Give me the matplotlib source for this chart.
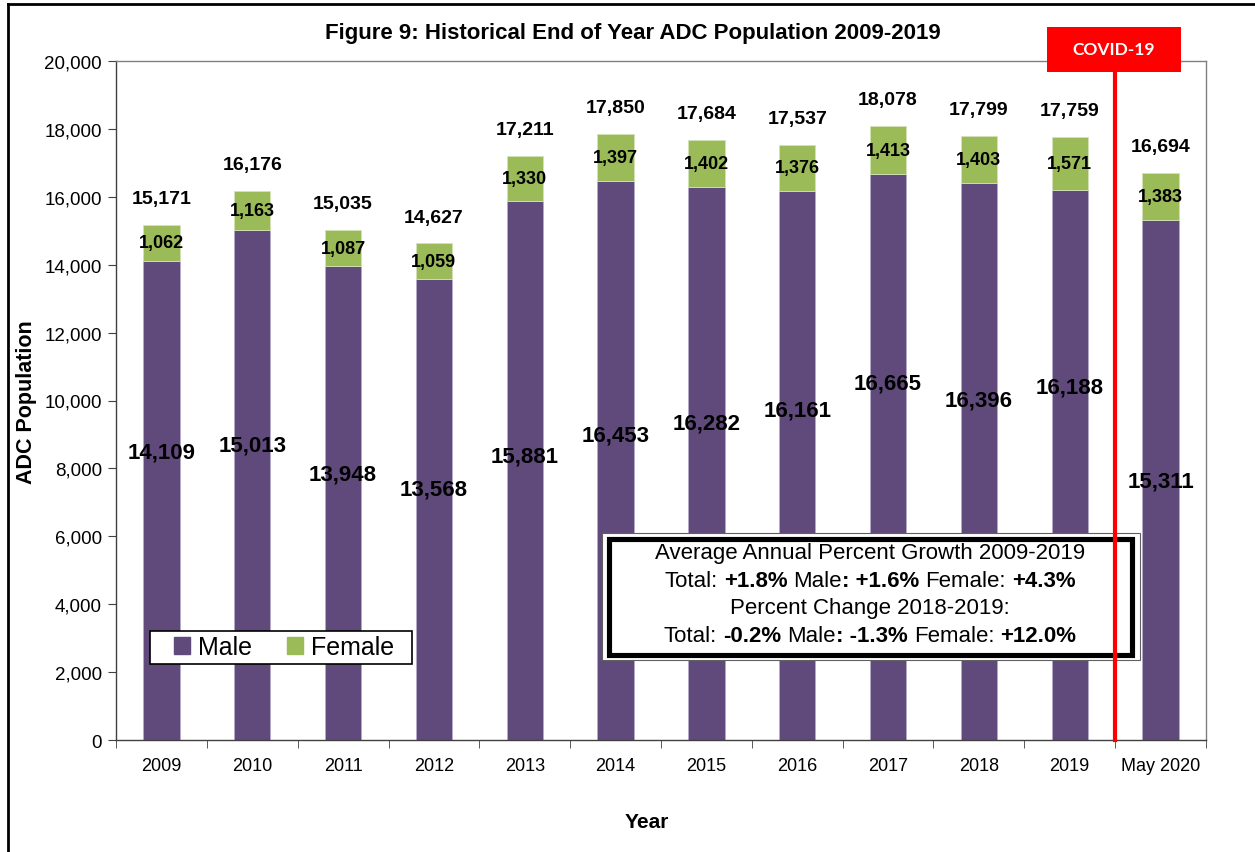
import matplotlib.pyplot as plt
from matplotlib.patches import Rectangle, Patch
from matplotlib.lines import Line2D
from matplotlib.ticker import FuncFormatter

plt.rcParams['font.family'] = ['Liberation Sans', 'DejaVu Sans']

# End of year population by sex
years = ['2009', '2010', '2011', '2012', '2013', '2014', '2015', '2016',
         '2017', '2018', '2019', 'May 2020']
male = [14109, 15013, 13948, 13568, 15881, 16453, 16282, 16161, 16665, 16396, 16188, 15311]
female = [1062, 1163, 1087, 1059, 1330, 1397, 1402, 1376, 1413, 1403, 1571, 1383]
total = [15171, 16176, 15035, 14627, 17211, 17850, 17684, 17537, 18078, 17799, 17759, 16694]

# heights where the male labels sit (they were hand placed, not centred)
male_label_y = [8480, 8690, 7840, 7390, 8370, 8980, 9340, 9720, 10510, 10010, 10400, 7630]

purple = '#604A7B'
green = '#9BBB59'

W, H = 1255, 853
fig = plt.figure(figsize=(W / 100, H / 100), dpi=100)
ax = fig.add_axes([116 / W, 1 - 741 / H, (1206 - 116) / W, (741 - 62) / H])

x = list(range(len(years)))
ax.bar(x, male, width=0.4, color=purple, edgecolor='#B7AACB', linewidth=0.6, zorder=2)
ax.bar(x, female, width=0.4, bottom=male, color=green, edgecolor='#D3E2B6',
       linewidth=0.6, zorder=2)

for i in x:
    ax.text(i, male_label_y[i], f'{male[i]:,}', ha='center', va='center',
            fontsize=16, fontweight='bold', zorder=5)
    ax.text(i, male[i] + female[i] / 2, f'{female[i]:,}', ha='center', va='center',
            fontsize=13, fontweight='bold', zorder=5)
    ax.annotate(f'{total[i]:,}', (i, male[i] + female[i]), xytext=(0, 19),
                textcoords='offset points', ha='center', va='center',
                fontsize=14, fontweight='bold', zorder=5)

ax.set_xlim(-0.5, len(years) - 0.5)
ax.set_ylim(0, 20000)
ax.set_yticks(range(0, 20001, 2000))
ax.yaxis.set_major_formatter(FuncFormatter(lambda v, p: f'{int(v):,}'))
ax.set_xticks(x)
ax.set_xticklabels(years)
ax.set_xticks([i - 0.5 for i in range(len(years) + 1)], minor=True)
ax.tick_params(axis='x', which='major', length=0, pad=12, labelsize=13)
ax.tick_params(axis='x', which='minor', length=6, direction='out', color='#404040')
ax.tick_params(axis='y', length=6, direction='out', color='#404040', labelsize=13.5, pad=4)

for side in ['left', 'bottom']:
    ax.spines[side].set_color('#404040')
    ax.spines[side].set_linewidth(1.0)
for side in ['top', 'right']:
    ax.spines[side].set_color('#808080')
    ax.spines[side].set_linewidth(1.0)

# outer chart frame
fig.add_artist(Line2D([8 / W, 8 / W], [0, 1 - 5 / H], color='black', linewidth=2))
fig.add_artist(Line2D([8 / W, 1], [1 - 5 / H, 1 - 5 / H], color='black', linewidth=2))

# COVID-19 tag
fig.add_artist(Rectangle((1047 / W, 1 - 73 / H), 134 / W, 45 / H,
                         facecolor='#FF0000', edgecolor='none', zorder=7))
fig.text(1114 / W, 1 - 50 / H, 'COVID-19', color='white', fontsize=12.5,
         fontweight='bold', family=['Lato', 'DejaVu Sans'], ha='center', va='center',
         zorder=8)

fig.text(633 / W, 1 - 34 / H, 'Figure 9: Historical End of Year ADC Population 2009-2019',
         ha='center', va='center', fontsize=16, fontweight='bold')
fig.text(27 / W, 1 - 402 / H, 'ADC Population', rotation=90, ha='center', va='center',
         fontsize=15.5, fontweight='bold')
fig.text(647 / W, 1 - 823 / H, 'Year', ha='center', va='center', fontsize=15,
         fontweight='bold')

# legend with a wide hand drawn frame
fig.add_artist(Rectangle((150 / W, 1 - 665 / H), 262 / W, 33 / H, facecolor='white',
                         edgecolor='black', linewidth=1.2, zorder=6))
leg = fig.legend(handles=[Patch(color=purple, label='Male'), Patch(color=green, label='Female')],
                 loc='center', bbox_to_anchor=(284 / W, 1 - 648 / H), ncol=2,
                 fontsize=18, frameon=False, handlelength=0.65, handleheight=0.65,
                 handletextpad=0.3, columnspacing=1.4, borderpad=0, borderaxespad=0)
leg.set_zorder(7)

# growth summary box with double border
fig.add_artist(Rectangle((602 / W, 1 - 661 / H), 538 / W, 127 / H, facecolor='white',
                         edgecolor='#606060', linewidth=0.8, zorder=7))
fig.add_artist(Rectangle((608.5 / W, 1 - 655.5 / H), 523.5 / W, 115.5 / H, facecolor='white',
                         edgecolor='black', linewidth=3.7, zorder=7))

# COVID-19 marker line between 2019 and May 2020, drawn over the summary box
fig.add_artist(Line2D([10.5, 10.5], [0, 20500], transform=ax.transData,
                      color='#FF0000', linewidth=3, zorder=7.5))

lines = [
    (554, [('Average Annual Percent Growth 2009-2019', 'normal', False)]),
    (581.5, [('Total:', 'normal', False), ('+1.8%', 'bold', True), ('Male', 'normal', True),
             (': +1.6%', 'bold', False), ('Female:', 'normal', True), ('+4.3%', 'bold', True)]),
    (609, [('Percent Change 2018-2019:', 'normal', False)]),
    (636.5, [('Total:', 'normal', False), ('-0.2%', 'bold', True), ('Male', 'normal', True),
             (': -1.3%', 'bold', False), ('Female:', 'normal', True), ('+12.0%', 'bold', True)]),
]

box_fs = 16
fig.canvas.draw()
rend = fig.canvas.get_renderer()
probe_a = fig.text(0, 0, 'x x', fontsize=box_fs)
probe_b = fig.text(0, 0, 'xx', fontsize=box_fs)
space = probe_a.get_window_extent(rend).width - probe_b.get_window_extent(rend).width
probe_a.remove()
probe_b.remove()

box_cx = 870
for ypix, parts in lines:
    items = []
    for s, w, gap in parts:
        t = fig.text(0, 1 - ypix / H, s, fontsize=box_fs, fontweight=w, va='center',
                     ha='left', zorder=9)
        items.append((t, t.get_window_extent(rend).width, gap))
    width = sum(wd + (space if g else 0) for _, wd, g in items)
    xpos = box_cx - width / 2
    for t, wd, g in items:
        if g:
            xpos += space
        t.set_x(xpos / W)
        xpos += wd

fig.savefig('out.png', dpi=100)
